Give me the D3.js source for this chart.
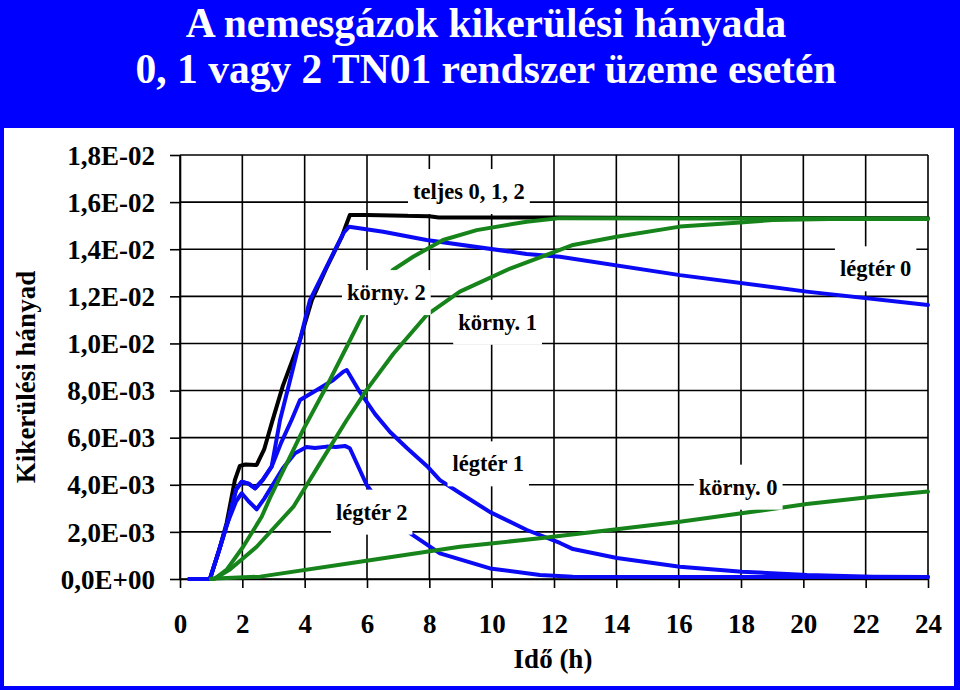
<!DOCTYPE html>
<html>
<head>
<meta charset="utf-8">
<script src="https://cdn.jsdelivr.net/npm/d3@7"></script>
<style>
  html, body { margin: 0; padding: 0; background: #0000fe; }
  svg { display: block; }
</style>
</head>
<body>
<svg id="chart" width="960" height="690"></svg>
<script>
// ---------- DATA ----------
const titleLines = ["A nemesgázok kikerülési hányada", "0, 1 vagy 2 TN01 rendszer üzeme esetén"];
const xTitle = "Idő (h)";
const yTitle = "Kikerülési hányad";

const xTicks = [0, 2, 4, 6, 8, 10, 12, 14, 16, 18, 20, 22, 24];
const xTickLabels = ["0", "2", "4", "6", "8", "10", "12", "14", "16", "18", "20", "22", "24"];
const yTicks = [0, 0.002, 0.004, 0.006, 0.008, 0.010, 0.012, 0.014, 0.016, 0.018];
const yTickLabels = ["0,0E+00", "2,0E-03", "4,0E-03", "6,0E-03", "8,0E-03", "1,0E-02", "1,2E-02", "1,4E-02", "1,6E-02", "1,8E-02"];

// [time (h), fraction]
const teljes = [[0.3,0],[0.96,0],[1.25,0.0012],[1.5,0.0024],[1.76,0.0042],[1.92,0.0048],[2.1,0.00486],[2.46,0.00484],[2.7,0.0055],[2.95,0.00665],[3.3,0.0082],[3.85,0.01015],[4.23,0.01184],[4.71,0.01324],[5.19,0.01452],[5.33,0.01503],[5.45,0.01545],[6,0.01545],[8,0.0154],[8.3,0.01535],[12,0.01535],[16,0.01533],[24,0.01532]];

const legter0 = [[0.3,0],[0.96,0],[1.25,0.0012],[1.55,0.0025],[1.8,0.0038],[1.98,0.00413],[2.2,0.00405],[2.41,0.00385],[2.65,0.0042],[2.94,0.00477],[3.21,0.00675],[3.6,0.0088],[3.85,0.01015],[4.17,0.01184],[4.81,0.01354],[5.25,0.0147],[5.42,0.01495],[5.7,0.0149],[6.52,0.01474],[7.91,0.01439],[11.12,0.0138],[12.19,0.01368],[16.04,0.0129],[20.11,0.0122],[24,0.01163]];

const legter1 = [[0.3,0],[0.96,0],[1.25,0.0012],[1.55,0.0025],[1.8,0.0038],[1.98,0.00413],[2.2,0.00405],[2.41,0.00385],[2.65,0.0042],[2.94,0.00477],[3.25,0.0058],[3.58,0.00675],[3.85,0.0076],[4.39,0.00802],[4.92,0.00845],[5.24,0.0088],[5.35,0.00887],[5.77,0.00794],[6.26,0.007],[6.74,0.00624],[7.28,0.00556],[7.92,0.0048],[8.34,0.0042],[8.98,0.00365],[9.95,0.00284],[11.13,0.00208],[12.19,0.00153],[12.61,0.00127],[14.02,0.00089],[16.04,0.00052],[18.03,0.00031],[20.12,0.00017],[22.23,0.0001],[24,0.00008]];

const legter2 = [[0.3,0],[0.96,0],[1.25,0.0012],[1.5,0.0023],[1.8,0.0033],[1.98,0.00364],[2.2,0.0033],[2.46,0.00296],[2.7,0.0034],[2.94,0.00392],[3.3,0.0047],[3.69,0.00534],[4.06,0.0056],[4.33,0.00556],[4.71,0.00562],[5.0,0.0056],[5.29,0.00565],[5.45,0.00555],[5.99,0.00399],[6.6,0.0029],[7.38,0.00195],[8.34,0.00109],[9.95,0.00045],[11.55,0.00017],[12.6,0.0001],[24,0.00008]];

const korny2 = [[1.0,0],[1.12,0.00002],[1.5,0.0004],[2.02,0.00136],[2.62,0.00264],[2.89,0.00345],[3.95,0.00633],[4.81,0.00845],[5.35,0.00986],[5.83,0.01113],[6.83,0.01312],[7.48,0.01368],[8.44,0.01439],[9.52,0.01481],[11.12,0.01517],[12.19,0.01532],[16,0.0153],[24,0.0153]];

const korny1 = [[1.0,0],[1.12,0.00002],[1.6,0.0004],[2.46,0.00137],[3.64,0.00307],[4.49,0.00491],[5.35,0.00675],[6.0,0.00805],[6.84,0.00955],[7.91,0.0112],[8.98,0.0122],[10.59,0.01318],[12.19,0.01397],[12.61,0.01418],[14.01,0.01453],[16.04,0.01496],[17.97,0.01513],[19.02,0.01524],[20.85,0.01528],[24,0.01528]];

const korny0 = [[1.0,0],[1.12,0.00002],[2.57,0.0001],[5.77,0.00073],[8.98,0.00137],[11.55,0.00173],[14.01,0.00211],[16.04,0.00243],[18.02,0.00279],[20.11,0.00318],[22.23,0.00349],[24,0.00371]];

// annotation labels: text, centre position in data units
const labelTexts = ["teljes 0, 1, 2", "körny. 2", "körny. 1", "légtér 0", "légtér 1", "légtér 2", "körny. 0"];
const labelT = [9.27, 6.62, 10.19, 22.32, 9.89, 6.15, 17.91];
const labelV = [0.01647, 0.01218, 0.01092, 0.01319, 0.00491, 0.00286, 0.00392];

// ---------- DRAW ----------
const FONT = '"Liberation Serif"';
const W = 960, H = 690;
const svg = d3.select("#chart");
const plot = { left: 180, right: 928, top: 155, bottom: 579 };

svg.append("rect").attr("x", 0).attr("y", 0).attr("width", W).attr("height", H).attr("fill", "#0000fe");
svg.append("rect").attr("x", 4).attr("y", 128).attr("width", 950).attr("height", 558).attr("fill", "#ffffff");

function styleText(sel, size) {
  return sel.style("font-family", FONT)
    .style("font-weight", "bold")
    .style("font-size", size + "px");
}

// title
styleText(svg.selectAll("text.title").data(titleLines).enter().append("text")
  .attr("class", "title")
  .attr("x", 486).attr("y", (d, i) => i === 0 ? 37 : 83)
  .attr("text-anchor", "middle")
  .attr("fill", "#ffffff")
  .text(d => d), 41.5);

const x = d3.scaleLinear().domain([0, 24]).range([plot.left, plot.right]);
const y = d3.scaleLinear().domain([0, 0.018]).range([plot.bottom, plot.top]);

// grid
const grid = svg.append("g").attr("stroke", "#000").attr("stroke-width", 1.6);
grid.selectAll("line.h").data(yTicks).enter().append("line")
  .attr("x1", plot.left).attr("x2", plot.right)
  .attr("y1", d => y(d)).attr("y2", d => y(d));
grid.selectAll("line.v").data(xTicks).enter().append("line")
  .attr("y1", plot.top).attr("y2", plot.bottom)
  .attr("x1", d => x(d)).attr("x2", d => x(d));

// axes
const yAxis = svg.append("g").attr("transform", `translate(${plot.left},0)`)
  .call(d3.axisLeft(y).tickValues(yTicks).tickFormat((d, i) => yTickLabels[i]).tickSize(10).tickSizeOuter(0).tickPadding(15));
const xAxis = svg.append("g").attr("transform", `translate(0,${plot.bottom})`)
  .call(d3.axisBottom(x).tickValues(xTicks).tickFormat((d, i) => xTickLabels[i]).tickSize(9).tickSizeOuter(0).tickPadding(26));
[yAxis, xAxis].forEach(a => {
  a.attr("font-family", null).attr("font-size", null);
  a.selectAll("path.domain").attr("stroke", "#000").attr("stroke-width", 1.6);
  a.selectAll(".tick line").attr("stroke", "#000").attr("stroke-width", 1.6);
  styleText(a.selectAll(".tick text").attr("fill", "#000"), 27);
});
yAxis.selectAll(".tick text").attr("dy", "0.34em");

// axis titles
styleText(svg.append("text").attr("x", 553).attr("y", 668).attr("text-anchor", "middle")
  .attr("fill", "#000").text(xTitle), 27);
styleText(svg.append("text").attr("transform", "translate(35,377) rotate(-90)").attr("text-anchor", "middle")
  .attr("fill", "#000").text(yTitle), 27);

// curves
const line = d3.line().x(d => x(d[0])).y(d => y(d[1])).curve(d3.curveLinear);
const series = [
  { data: teljes, color: "#000000" },
  { data: legter0, color: "#0a0af5" },
  { data: legter1, color: "#0a0af5" },
  { data: legter2, color: "#0a0af5" },
  { data: korny0, color: "#16841a" },
  { data: korny1, color: "#16841a" },
  { data: korny2, color: "#16841a" }
];
svg.append("g").selectAll("path").data(series).enter().append("path")
  .attr("d", d => line(d.data))
  .attr("fill", "none")
  .attr("stroke", d => d.color)
  .attr("stroke-width", 4)
  .attr("stroke-linejoin", "round")
  .attr("stroke-linecap", "round");

// annotation labels with white boxes
const labG = svg.append("g");
labelTexts.forEach((t, i) => {
  const g = labG.append("g").attr("transform", `translate(${x(labelT[i])},${y(labelV[i])})`);
  const txt = styleText(g.append("text").attr("text-anchor", "middle").attr("dy", "0.35em")
    .attr("fill", "#000").text(t), 22.5);
  const bb = txt.node().getBBox();
  g.insert("rect", "text")
    .attr("x", bb.x - 5).attr("y", -22).attr("width", bb.width + 10).attr("height", 45)
    .attr("fill", "#ffffff");
});
</script>
</body>
</html>
